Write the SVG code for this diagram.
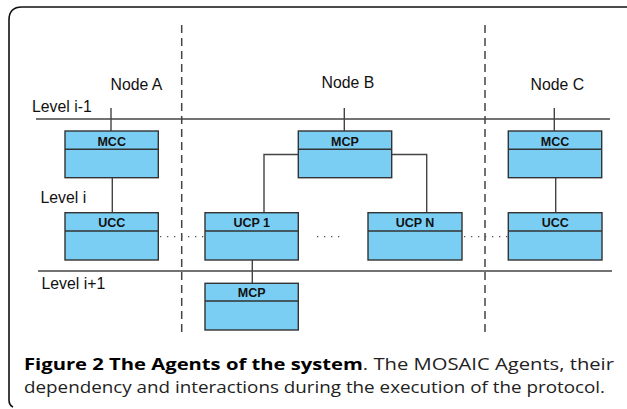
<svg xmlns="http://www.w3.org/2000/svg" width="627" height="409" viewBox="0 0 627 409">
<style>
.box{fill:#7acef4;stroke:#333;stroke-width:1.4}
.div{stroke:#333;stroke-width:1.4}
.t{font-family:"Liberation Sans",Arial,sans-serif;font-weight:bold;font-size:12.5px;fill:#111;text-anchor:middle}
.lbl{font-family:"Liberation Sans",Arial,sans-serif;font-size:15.8px;fill:#111}
.ln{stroke:#444;stroke-width:1.4;fill:none}
.dash{stroke:#444;stroke-width:1.5;stroke-dasharray:8 5;fill:none}
.dot{stroke:#555;stroke-width:1.2;stroke-dasharray:1.3 5.7;fill:none}
.cap{font-family:"Open Sans","Noto Sans",sans-serif;font-size:16.6px;fill:#222}
</style>
<rect width="627" height="409" fill="#fff"/>
<path d="M627 7 H22 Q9 7 9 20 V400 Q9 405 13 407" fill="none" stroke="#111" stroke-width="1.6"/>
<g id="guides">
<line class="dash" x1="181.7" y1="25" x2="181.7" y2="337"/>
<line class="dash" x1="485" y1="25" x2="485" y2="337"/>
<line class="ln" x1="36" y1="119" x2="610" y2="119"/>
<line class="ln" x1="38" y1="271" x2="612" y2="271"/>
<text class="lbl" x="32" y="112">Level i-1</text>
<text class="lbl" x="40.5" y="203">Level i</text>
<text class="lbl" x="41.5" y="289">Level i+1</text>
<text class="lbl" x="110.5" y="90">Node A</text>
<text class="lbl" x="321.5" y="88">Node B</text>
<text class="lbl" x="530.5" y="90">Node C</text>
</g>
<g id="connectors">
<line class="ln" x1="111" y1="108" x2="111" y2="131"/>
<line class="ln" x1="112.3" y1="178" x2="112.3" y2="213"/>
<line class="ln" x1="344.3" y1="108" x2="344.3" y2="131"/>
<polyline class="ln" points="298.3,154.5 264,154.5 264,213"/>
<polyline class="ln" points="391.7,154.5 426.7,154.5 426.7,213"/>
<line class="ln" x1="554.3" y1="108" x2="554.3" y2="131"/>
<line class="ln" x1="555.7" y1="178" x2="555.7" y2="213"/>
<line class="ln" x1="252.3" y1="260" x2="252.3" y2="283.3"/>
<line class="dot" x1="160" y1="236.7" x2="205" y2="236.7"/>
<line class="dot" x1="317" y1="236.7" x2="342" y2="236.7"/>
<line class="dot" x1="464" y1="236.7" x2="508" y2="236.7"/>
</g>
<g id="mcc-a"><rect class="box" x="65" y="131" width="93.3" height="46.7"/><line class="div" x1="65" y1="149.3" x2="158.3" y2="149.3"/><text class="t" x="111.7" y="145.5">MCC</text></g>
<g id="mcp-b"><rect class="box" x="298.3" y="131" width="93.4" height="46.7"/><line class="div" x1="298.3" y1="149.3" x2="391.7" y2="149.3"/><text class="t" x="345" y="145.5">MCP</text></g>
<g id="mcc-c"><rect class="box" x="508.3" y="131" width="93.4" height="46.7"/><line class="div" x1="508.3" y1="149.3" x2="601.7" y2="149.3"/><text class="t" x="555" y="145.5">MCC</text></g>
<g id="ucc-a"><rect class="box" x="65" y="212.7" width="93.3" height="47.3"/><line class="div" x1="65" y1="231" x2="158.3" y2="231"/><text class="t" x="111.7" y="227">UCC</text></g>
<g id="ucp-1"><rect class="box" x="205" y="212.7" width="93.3" height="47.3"/><line class="div" x1="205" y1="231" x2="298.3" y2="231"/><text class="t" x="251.7" y="227">UCP 1</text></g>
<g id="ucp-n"><rect class="box" x="368" y="212.7" width="94" height="47.3"/><line class="div" x1="368" y1="231" x2="462" y2="231"/><text class="t" x="415" y="227">UCP N</text></g>
<g id="ucc-c"><rect class="box" x="508.3" y="212.7" width="93.7" height="47.3"/><line class="div" x1="508.3" y1="231" x2="602" y2="231"/><text class="t" x="555.2" y="227">UCC</text></g>
<g id="mcp-sub"><rect class="box" x="205" y="283.3" width="93.3" height="46.7"/><line class="div" x1="205" y1="301" x2="298.3" y2="301"/><text class="t" x="251.7" y="297">MCP</text></g>
<g id="caption">
<text class="cap" x="24" y="370" textLength="590" lengthAdjust="spacingAndGlyphs"><tspan font-weight="bold" fill="#000">Figure 2 The Agents of the system</tspan>. The MOSAIC Agents, their</text>
<text class="cap" x="24" y="393" textLength="581" lengthAdjust="spacingAndGlyphs">dependency and interactions during the execution of the protocol.</text>
</g>
</svg>
